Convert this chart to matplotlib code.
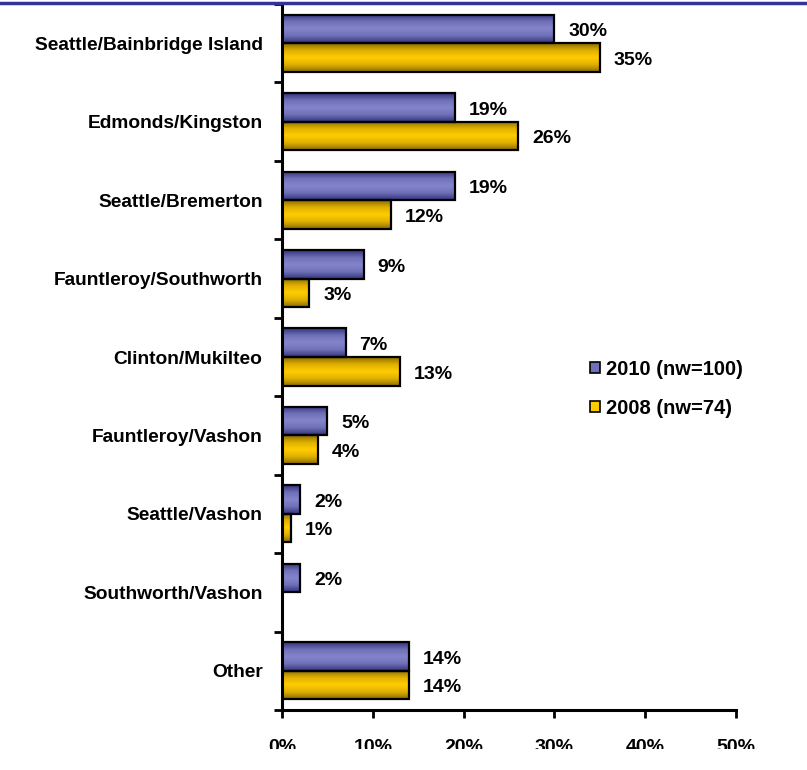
import matplotlib
matplotlib.use('Agg')
import matplotlib.pyplot as plt
from matplotlib.patches import Patch, Rectangle
from matplotlib.lines import Line2D
from matplotlib.colors import LinearSegmentedColormap
import numpy as np

plt.rcParams['font.family'] = ['Liberation Sans', 'DejaVu Sans']
plt.rcParams['font.weight'] = 'bold'

# data
routes = ['Seattle/Bainbridge Island', 'Edmonds/Kingston', 'Seattle/Bremerton',
          'Fauntleroy/Southworth', 'Clinton/Mukilteo', 'Fauntleroy/Vashon',
          'Seattle/Vashon', 'Southworth/Vashon', 'Other']
pct_2010 = [30, 19, 19, 9, 7, 5, 2, 2, 14]
pct_2008 = [35, 26, 12, 3, 13, 4, 1, 0, 14]
series_labels = ['2010 (nw=100)', '2008 (nw=74)']
xticks = [0, 10, 20, 30, 40, 50]

blue_cmap = LinearSegmentedColormap.from_list('b', ['#34347f', '#7070b8', '#8585cc', '#7070b8', '#34347f'])
gold_cmap = LinearSegmentedColormap.from_list('g', ['#8c6e00', '#e0b000', '#ffcc00', '#e0b000', '#8c6e00'])

fig = plt.figure(figsize=(8.07, 7.70), dpi=100)
ax = fig.add_axes([282 / 807, 60 / 770, 454 / 807, 706 / 770])

y = np.arange(len(routes))
h = 0.364


def gradient_bars(bars, cmap):
    grad = np.linspace(0, 1, 64).reshape(-1, 1)
    for b in bars:
        if b.get_width() <= 0:
            continue
        x0, y0 = b.get_x(), b.get_y()
        im = ax.imshow(grad, cmap=cmap, aspect='auto', zorder=2,
                       extent=[x0, x0 + b.get_width(), y0 + b.get_height(), y0])
        im.set_clip_path(b)


b1 = ax.barh(y - h / 2, pct_2010, height=h, facecolor='none', edgecolor='black', linewidth=1.6, zorder=3)
b2 = ax.barh(y + h / 2, pct_2008, height=h, facecolor='none', edgecolor='black', linewidth=1.6, zorder=3)
gradient_bars(b1, blue_cmap)
gradient_bars(b2, gold_cmap)

for bars, vals in [(b1, pct_2010), (b2, pct_2008)]:
    for b, v in zip(bars, vals):
        if v == 0:
            continue
        ax.annotate('%d%%' % v, (b.get_width(), b.get_y() + b.get_height() / 2),
                    xytext=(10, -2), textcoords='offset points', ha='left', va='center',
                    fontsize=14, fontweight='bold')

ax.set_xlim(0, 50)
ax.set_ylim(len(routes) - 0.5, -0.5)

ax.set_xticks(xticks)
ax.set_xticklabels(['%d%%' % t for t in xticks])
ax.tick_params(axis='x', direction='out', length=6, width=2, pad=15, labelsize=14)

ax.set_yticks(np.arange(-0.5, len(routes)))
ax.set_yticklabels([])
ax.set_yticks(y, minor=True)
ax.set_yticklabels(routes, minor=True)
ax.tick_params(axis='y', which='major', direction='out', length=6, width=2)
ax.tick_params(axis='y', which='minor', length=0, pad=14, labelsize=13.8)

for s in ['top', 'right']:
    ax.spines[s].set_visible(False)
for s in ['left', 'bottom']:
    ax.spines[s].set_linewidth(2.2)

handles = [Patch(facecolor='#7070b8', edgecolor='black', linewidth=1.2),
           Patch(facecolor='#ffcc00', edgecolor='black', linewidth=1.2)]
ax.legend(handles, series_labels, loc='center left', bbox_to_anchor=(0.638, 0.455),
          frameon=False, handlelength=0.5, handleheight=0.5, handletextpad=0.3,
          labelspacing=1.0, prop={'size': 14.5, 'weight': 'bold'})

# navy rule along the top edge
fig.add_artist(Line2D([0, 1], [1 - 3 / 770, 1 - 3 / 770], color='#333399', linewidth=2.5))
# reference is cut off just under the x tick labels
fig.add_artist(Rectangle((0, 0), 1, 21 / 770, facecolor='white', edgecolor='none', zorder=10))

fig.savefig('out.png', dpi=100)
